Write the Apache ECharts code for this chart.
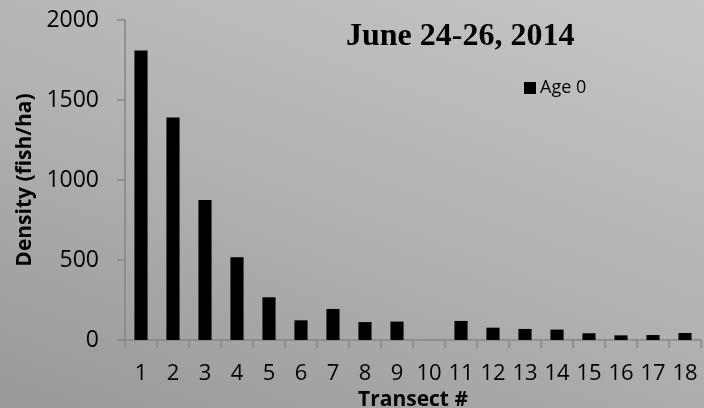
<!DOCTYPE html>
<html>
<head>
<meta charset="utf-8">
<script src="https://cdn.jsdelivr.net/npm/echarts@6/dist/echarts.min.js"></script>
<style>
html,body{margin:0;padding:0;}
#chart{width:704px;height:408px;background:linear-gradient(200deg,#c6c6c6 0%,#b2b2b2 50%,#989898 100%);}
</style>
</head>
<body>
<div id="chart"></div>
<script>
var categories = ['1','2','3','4','5','6','7','8','9','10','11','12','13','14','15','16','17','18'];
var age0 = [1810, 1390, 875, 517, 267, 123, 194, 112, 115, 0, 119, 77, 69, 65, 42, 29, 31, 44];
var yTicks = {min: 0, max: 2000, interval: 500};
var titleText = 'June 24-26, 2014';
var seriesName = 'Age 0';
var xTitle = 'Transect #';
var yTitle = 'Density (fish/ha)';

var chart = echarts.init(document.getElementById('chart'), null, {renderer: 'canvas'});
chart.setOption({
  backgroundColor: 'transparent',
  animation: false,
  title: {
    text: titleText,
    left: 341, top: 16,
    textStyle: {fontFamily: 'Liberation Serif', fontWeight: 'bold', fontSize: 32, color: '#000'}
  },
  legend: {
    data: [seriesName],
    left: 519, top: 74,
    itemWidth: 12, itemHeight: 12, itemGap: 10,
    icon: 'rect',
    textStyle: {fontFamily: 'Open Sans', fontSize: 18, color: '#000', padding: [0,0,0,-1]}
  },
  grid: {left: 125, top: 20, right: 3, bottom: 68, containLabel: false, outerBoundsMode: 'none'},
  xAxis: {
    type: 'category',
    data: categories,
    name: xTitle,
    nameLocation: 'middle',
    nameGap: 46,
    nameTextStyle: {fontFamily: 'Open Sans', fontWeight: 'bold', fontSize: 21, color: '#000'},
    axisLine: {lineStyle: {color: '#868686', width: 1.5}},
    axisTick: {show: true, length: 8, alignWithLabel: false, lineStyle: {color: '#868686', width: 1.5}},
    axisLabel: {fontFamily: 'Open Sans', fontSize: 22, color: '#000', margin: 23, interval: 0}
  },
  yAxis: {
    type: 'value',
    min: yTicks.min, max: yTicks.max, interval: yTicks.interval,
    name: yTitle,
    nameLocation: 'middle',
    nameGap: 87,
    nameRotate: 90,
    nameTextStyle: {fontFamily: 'Open Sans', fontWeight: 'bold', fontSize: 21, color: '#000'},
    axisLine: {show: true, lineStyle: {color: '#868686', width: 1.5}},
    axisTick: {show: true, length: 8, lineStyle: {color: '#868686', width: 1.5}},
    splitLine: {show: false},
    axisLabel: {fontFamily: 'Open Sans', fontSize: 23, color: '#000', margin: 26,
      formatter: function (v) { return String(v); }}
  },
  series: [{
    name: seriesName,
    type: 'bar',
    data: age0,
    barWidth: '41%',
    itemStyle: {color: '#000'}
  }]
});
</script>
</body>
</html>
